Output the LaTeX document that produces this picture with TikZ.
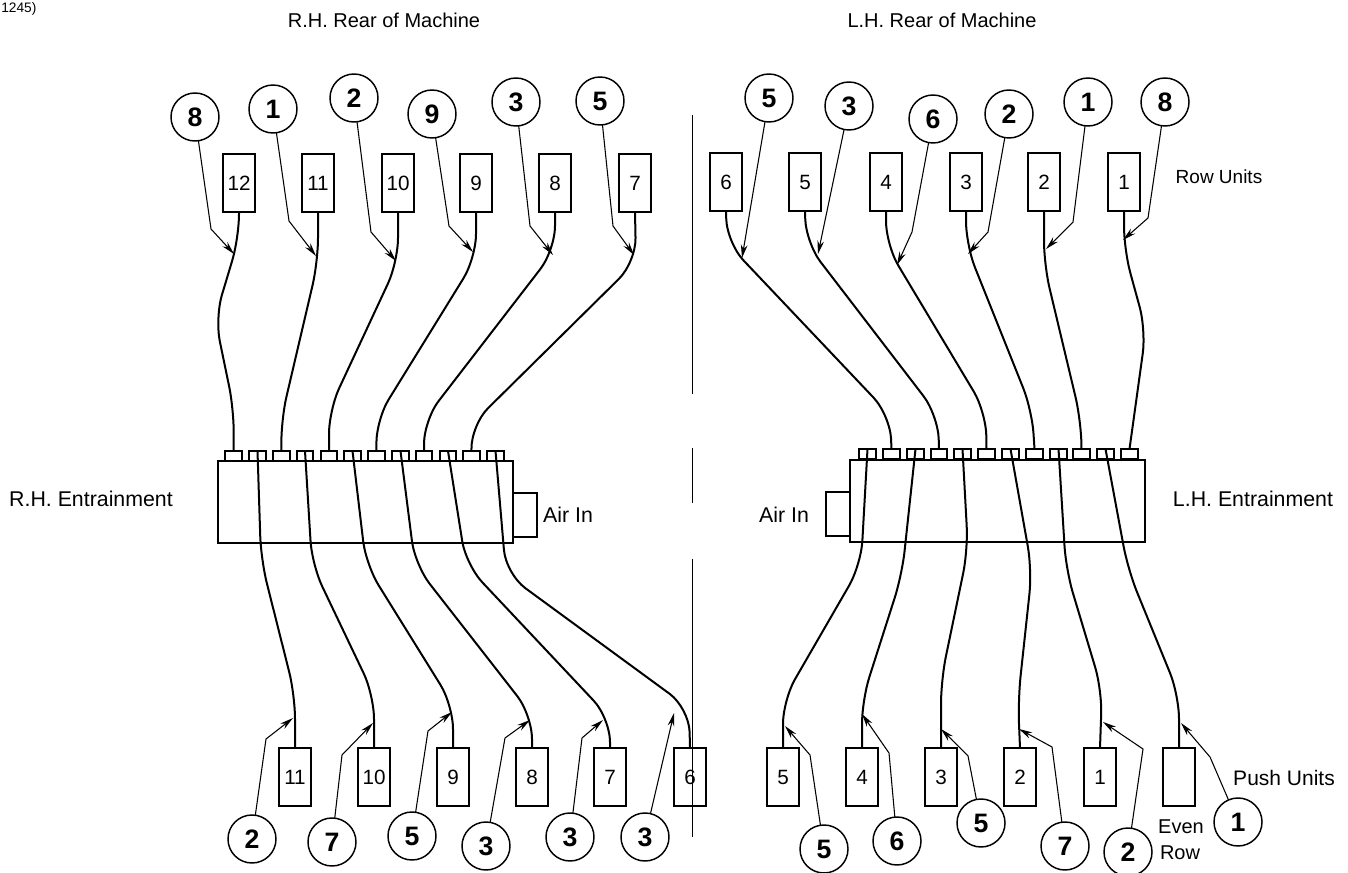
\documentclass[tikz,border=0pt]{standalone}
\usepackage{fontspec}
\setmainfont{Liberation Sans}
\usetikzlibrary{arrows.meta}
\tikzset{
  unitbox/.style={draw,line width=1.5pt,minimum width=24.5pt,minimum height=43.5pt,inner sep=0pt,outer sep=0pt,font=\fontsize{15.5}{18}\selectfont},
  tabbox/.style={draw,line width=1.5pt,minimum width=12.5pt,minimum height=7.5pt,inner sep=0pt,outer sep=0pt},
  manifold/.style={draw,line width=1.5pt,minimum width=221.25pt,minimum height=61.5pt,inner sep=0pt,outer sep=0pt},
  airbox/.style={draw,line width=1.5pt,minimum width=18pt,minimum height=33pt,inner sep=0pt,outer sep=0pt},
  callout/.style={draw,circle,line width=1.1pt,minimum size=36pt,inner sep=0pt,outer sep=0pt,font=\fontsize{20}{22}\selectfont\bfseries},
  hose/.style={line width=1.5pt,rounded corners=18pt},
  leader/.style={line width=0.8pt,-{Stealth[length=10pt,width=5pt]}},
  cline/.style={line width=0.75pt},
  lbl/.style={inner sep=0pt,font=\fontsize{15}{18}\selectfont},
  lblb/.style={inner sep=0pt,font=\fontsize{16}{18}\selectfont}
}
\begin{document}
\begin{tikzpicture}[x=0.75pt,y=-0.75pt]
\useasboundingbox (0,0) rectangle (1348,873);
\clip (0,0) rectangle (1348,873);
% centre line
\coordinate (cl1) at (692,115); \coordinate (cl2) at (692,394);
\coordinate (cl3) at (692,448); \coordinate (cl4) at (692,503);
\coordinate (cl5) at (692,559); \coordinate (cl6) at (692,837);
\draw[cline] (cl1)--(cl2) (cl3)--(cl4) (cl5)--(cl6);
% manifolds
\node[manifold] (ml) at (365.5,502) {};
\node[manifold] (mr) at (997.5,500.5) {};
\node[airbox] (al) at (525,515) {};
\node[airbox] (ar) at (838,514) {};
% tabs
\foreach \n/\x in {1/233.5,2/257.5,3/281.5,4/305,5/329,6/352.5,7/376.5,8/400.5,9/424,10/448,11/471.5,12/495.5}
  \node[tabbox] (tl\n) at (\x,456) {};
\foreach \n/\x in {1/867.5,2/891.5,3/915.5,4/939,5/962.5,6/986.5,7/1010.5,8/1034.5,9/1058.5,10/1081.5,11/1105.5,12/1129.5}
  \node[tabbox] (tr\n) at (\x,454) {};
% row units
\foreach \n/\x in {12/239,11/318,10/398,9/476,8/555,7/635}
  \node[unitbox] (rl\n) at (\x,183) {\n};
\foreach \n/\x in {6/726,5/805,4/886,3/966,2/1044,1/1124}
  \node[unitbox] (rr\n) at (\x,182) {\n};
% push units
\foreach \n/\x in {11/295,10/374,9/453,8/532,7/610,6/690}
  \node[unitbox] (pl\n) at (\x,777) {\n};
\foreach \n/\x in {5/783,4/862,3/941,2/1020,1/1100}
  \node[unitbox] (pr\n) at (\x,777) {\n};
\node[unitbox] (preven) at (1179,777) {};
% upper hoses, left
\draw[hose] (rl12.south) -- (239,238) -- (215,318) -- (234,410) -- (tl1.north);
\draw[hose] (rl11.south) -- (318,262) -- (281,420) -- (tl3.north);
\draw[hose] (rl10.south) -- (398,262) -- (329,410) -- (tl5.north);
\draw[hose] (rl9.south) -- (476,258) -- (376,420) -- (tl7.north);
\draw[hose] (rl8.south) -- (555,250) -- (424,420) -- (tl9.north);
\draw[hose] (rl7.south) -- (636,262) -- (471,425) -- (tl11.north);
% lower hoses, left
\draw[hose] (tl2.north) -- (261,560) -- (295,695) -- (pl11.north);
\draw[hose] (tl4.north) -- (312,565) -- (374,695) -- (pl10.north);
\draw[hose] (tl6.north) -- (366,565) -- (453,705) -- (pl9.north);
\draw[hose] (tl8.north) -- (415,565) -- (532,715) -- (pl8.north);
\draw[hose] (tl10.north) -- (466,565) -- (610,718) -- (pl7.north);
\draw[hose] (tl12.north) -- (506,574) -- (689,708) -- (pl6.north);
% upper hoses, right
\draw[hose] (rr6.south) -- (727,243) -- (890,415) -- (tr2.north);
\draw[hose] (rr5.south) -- (806,243) -- (938,415) -- (tr4.north);
\draw[hose] (rr4.south) -- (886,245) -- (986,412) -- (tr6.north);
\draw[hose] (rr3.south) -- (966,245) -- (1032,410) -- (tr8.north);
\draw[hose] (rr2.south) -- (1044,265) -- (1081,420) -- (tr10.north);
\draw[hose] (rr1.south) -- (1124,250) -- (1146,330) -- (tr12.north);
% lower hoses, right
\draw[hose] (tr1.north) -- (861,565) -- (783,700) -- (pr5.north);
\draw[hose] (tr3.north) -- (902,575) -- (862,700) -- (pr4.north);
\draw[hose] (tr5.north) -- (968,550) -- (941,680) -- (pr3.north);
\draw[hose] (tr7.north) -- (1032,570) -- (1018,700) -- (pr2.north);
\draw[hose] (tr9.north) -- (1066,570) -- (1102,690) -- (pr1.north);
\draw[hose] (tr11.north) -- (1128,570) -- (1179,695) -- (preven.north);
% callouts
\foreach \n/\t/\x/\y in {a/8/195/117,b/1/273/109,c/2/354/98,d/9/432/114,e/3/516/102,f/5/600/101,
  g/5/769/98,h/3/849/106,i/6/933/119,j/2/1009/114,k/1/1088/102,l/8/1165/102,
  m/2/252/839,n/7/332/842,o/5/412/836,p/3/486/846,q/3/570/837,r/3/645/837,
  s/5/824/849,t/6/897/841,u/5/981/823,v/7/1065/846,w/2/1128/852,x/1/1238/822}
  \node[callout,fill=white] (c\n) at (\x,\y) {\t};
% leaders
\draw[leader] (ca) -- (211,229) -- (234,254);
\draw[leader] (cb) -- (289,221) -- (316,256);
\draw[leader] (cc) -- (371,232) -- (396,261);
\draw[leader] (cd) -- (449,226) -- (473,252);
\draw[leader] (ce) -- (530,226) -- (553,255);
\draw[leader] (cf) -- (613,226) -- (634,255);
\draw[leader] (cg) -- (742,258);
\draw[leader] (ch) -- (818,254);
\draw[leader] (ci) -- (912,232) -- (897,265);
\draw[leader] (cj) -- (988,232) -- (968,254);
\draw[leader] (ck) -- (1073,222) -- (1046,249);
\draw[leader] (cl) -- (1148,218) -- (1123,240);
\draw[leader] (cm) -- (266,739) -- (293,718);
\draw[leader] (cn) -- (342,755) -- (373,723);
\draw[leader] (co) -- (428,731) -- (452,712);
\draw[leader] (cp) -- (505,738) -- (530,720);
\draw[leader] (cq) -- (582,738) -- (603,720);
\draw[leader] (cr) -- (674,713);
\draw[leader] (cs) -- (810,755) -- (785,726);
\draw[leader] (ct) -- (889,753) -- (862,714);
\draw[leader] (cu) -- (968,756) -- (941,729);
\draw[leader] (cv) -- (1052,747) -- (1019,729);
\draw[leader] (cw) -- (1143,749) -- (1103,722);
\draw[leader] (cx) -- (1210,757) -- (1181,723);
% labels
\node[lbl,font=\fontsize{10.3}{12}\selectfont,anchor=west] (t0) at (1,9) {1245)};
\node[lbl] (t1) at (384,20) {R.H. Rear of Machine};
\node[lbl] (t2) at (942,20) {L.H. Rear of Machine};
\node[lblb] (t3) at (91,499) {R.H. Entrainment};
\node[lblb] (t4) at (1253,499) {L.H. Entrainment};
\node[lblb] (t5) at (568,515) {Air In};
\node[lblb] (t6) at (784,515) {Air In};
\node[lbl,font=\fontsize{14.25}{18}\selectfont] (t7) at (1219,177) {Row Units};
\node[lbl,font=\fontsize{15.75}{18}\selectfont] (t8) at (1284,778) {Push Units};
\node[lbl] (t9) at (1181,827) {Even};
\node[lbl] (t10) at (1180,853) {Row};
\end{tikzpicture}
\end{document}
